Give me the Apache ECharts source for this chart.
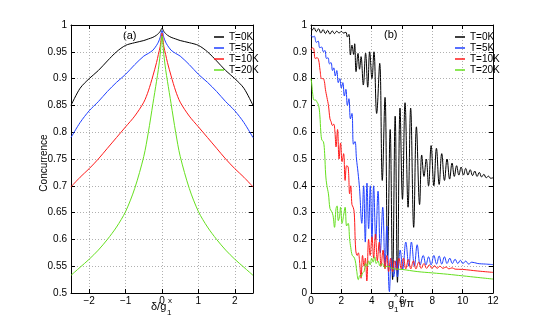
<!DOCTYPE html>
<html>
<head>
<meta charset="utf-8">
<script src="https://cdn.jsdelivr.net/npm/echarts@6/dist/echarts.min.js"></script>
<style>
  html, body { margin: 0; padding: 0; background: #fff; }
  #chart { width: 545px; height: 330px; }
</style>
</head>
<body>
<div id="chart"></div>
<script>
// (a) concurrence vs detuning
var detuning = [-2.5, -2.25, -2, -1.75, -1.5, -1.25, -1, -0.75, -0.5, -0.375, -0.25, -0.15, -0.1, -0.05, 0,
  0.05, 0.1, 0.15, 0.25, 0.375, 0.5, 0.75, 1, 1.25, 1.5, 1.75, 2, 2.25, 2.5];
var conc0K = [0.85, 0.882, 0.9, 0.915, 0.933, 0.95, 0.962, 0.967, 0.971, 0.974, 0.977, 0.981, 0.984, 0.988, 0.994,
  0.988, 0.984, 0.981, 0.977, 0.974, 0.971, 0.967, 0.962, 0.95, 0.933, 0.915, 0.9, 0.882, 0.85];
var conc5K = [0.79, 0.818, 0.84, 0.857, 0.876, 0.893, 0.908, 0.926, 0.942, 0.947, 0.953, 0.962, 0.968, 0.977, 0.99,
  0.977, 0.968, 0.962, 0.953, 0.947, 0.942, 0.926, 0.908, 0.893, 0.876, 0.857, 0.84, 0.818, 0.79];
var conc10K = [0.698, 0.716, 0.732, 0.75, 0.77, 0.79, 0.81, 0.83, 0.856, 0.877, 0.905, 0.93, 0.945, 0.96, 0.985,
  0.96, 0.945, 0.93, 0.905, 0.877, 0.856, 0.83, 0.81, 0.79, 0.77, 0.75, 0.732, 0.716, 0.698];
var conc20K = [0.533, 0.548, 0.563, 0.58, 0.6, 0.623, 0.652, 0.695, 0.755, 0.8, 0.853, 0.895, 0.917, 0.945, 0.98,
  0.945, 0.917, 0.895, 0.853, 0.8, 0.755, 0.695, 0.652, 0.623, 0.6, 0.58, 0.563, 0.548, 0.533];

// (b) concurrence vs time, [g1 tau/pi, C]
var dyn0K = [[0,0.988],[0.1,0.982],[0.2,0.99],[0.35,0.975],[0.5,0.986],[0.65,0.97],[0.8,0.983],[0.95,0.968],
  [1.1,0.98],[1.25,0.966],[1.4,0.978],[1.55,0.968],[1.7,0.977],[1.85,0.97],[2.0,0.976],[2.15,0.97],[2.3,0.973],
  [2.4,0.955],[2.5,0.965],[2.6,0.888],[2.7,0.925],[2.81,0.89],[2.88,0.93],[2.97,0.826],[3.1,0.894],[3.2,0.835],
  [3.3,0.882],[3.45,0.776],[3.6,0.895],[3.74,0.768],[3.87,0.9],[4.02,0.8],[4.15,0.9],[4.33,0.67],[4.53,0.857],
  [4.7,0.42],[4.88,0.73],[5.05,0.14],[5.22,0.61],[5.38,0.05],[5.55,0.66],[5.7,0.04],[5.87,0.69],[6.03,0.35],
  [6.2,0.71],[6.4,0.32],[6.57,0.69],[6.77,0.245],[6.95,0.62],[7.16,0.33],[7.3,0.515],[7.45,0.435],[7.6,0.5],
  [7.75,0.4],[7.92,0.55],[8.1,0.4],[8.27,0.54],[8.45,0.405],[8.62,0.52],[8.8,0.42],[8.97,0.5],[9.14,0.425],
  [9.3,0.485],[9.45,0.435],[9.6,0.475],[9.75,0.44],[9.9,0.47],[10.05,0.44],[10.2,0.465],[10.35,0.44],[10.5,0.46],
  [10.65,0.438],[10.8,0.455],[10.95,0.435],[11.1,0.45],[11.25,0.433],[11.4,0.443],[11.55,0.43],[11.7,0.436],
  [11.85,0.428],[12,0.43]];
var dyn5K = [[0,0.962],[0.12,0.955],[0.22,0.958],[0.35,0.935],[0.47,0.94],[0.58,0.915],[0.7,0.918],[0.82,0.9],
  [0.92,0.905],[1.02,0.875],[1.12,0.878],[1.22,0.855],[1.32,0.86],[1.42,0.83],[1.5,0.84],[1.6,0.81],[1.7,0.83],
  [1.8,0.785],[1.9,0.8],[2.0,0.765],[2.1,0.785],[2.2,0.735],[2.3,0.76],[2.4,0.7],[2.5,0.725],[2.6,0.65],[2.7,0.67],
  [2.8,0.555],[2.9,0.565],[3.0,0.5],[3.1,0.45],[3.2,0.39],[3.35,0.26],[3.47,0.4],[3.58,0.19],[3.69,0.41],[3.8,0.24],
  [3.91,0.4],[4.02,0.2],[4.13,0.4],[4.27,0.2],[4.42,0.38],[4.57,0.15],[4.73,0.32],[4.88,0.1],[5.0,0.25],[5.17,0.005],
  [5.3,0.13],[5.45,0.06],[5.6,0.12],[5.7,0.06],[5.88,0.16],[6.05,0.09],[6.25,0.19],[6.45,0.1],[6.62,0.19],[6.82,0.1],
  [7.0,0.18],[7.2,0.105],[7.4,0.14],[7.58,0.105],[7.75,0.135],[7.92,0.105],[8.1,0.14],[8.28,0.108],[8.45,0.138],
  [8.62,0.108],[8.8,0.135],[8.97,0.11],[9.15,0.13],[9.32,0.11],[9.5,0.126],[9.68,0.11],[9.85,0.122],[10.02,0.11],
  [10.2,0.119],[10.4,0.108],[10.6,0.115],[11,0.11],[11.5,0.108],[12,0.106]];
var dyn10K = [[0,0.907],[0.1,0.915],[0.18,0.912],[0.28,0.875],[0.4,0.878],[0.5,0.87],[0.6,0.83],[0.7,0.8],
  [0.8,0.8],[0.88,0.79],[0.95,0.76],[1.05,0.73],[1.15,0.7],[1.25,0.65],[1.32,0.64],[1.42,0.625],[1.5,0.63],
  [1.58,0.6],[1.65,0.545],[1.75,0.61],[1.85,0.5],[1.95,0.56],[2.05,0.49],[2.15,0.52],[2.25,0.42],[2.35,0.475],
  [2.45,0.47],[2.55,0.37],[2.62,0.4],[2.7,0.33],[2.78,0.32],[2.85,0.3],[2.95,0.16],[3.05,0.14],[3.12,0.15],
  [3.2,0.12],[3.3,0.055],[3.4,0.14],[3.5,0.1],[3.58,0.13],[3.68,0.045],[3.8,0.2],[3.9,0.14],[4.02,0.21],[4.13,0.13],
  [4.25,0.22],[4.37,0.12],[4.5,0.19],[4.62,0.1],[4.75,0.16],[4.88,0.09],[5.0,0.14],[5.12,0.08],[5.25,0.13],
  [5.38,0.08],[5.52,0.12],[5.65,0.085],[5.8,0.13],[5.95,0.09],[6.1,0.13],[6.25,0.09],[6.42,0.125],[6.58,0.09],
  [6.75,0.12],[6.92,0.09],[7.1,0.115],[7.27,0.092],[7.45,0.11],[7.62,0.092],[7.8,0.105],[7.97,0.092],[8.15,0.102],
  [8.32,0.092],[8.5,0.1],[8.7,0.092],[8.9,0.097],[9.1,0.09],[9.3,0.094],[9.5,0.089],[10,0.088],[11,0.082],[12,0.077]];
var dyn20K = [[0,0.8],[0.05,0.78],[0.12,0.74],[0.2,0.72],[0.3,0.72],[0.4,0.712],[0.5,0.7],[0.58,0.665],[0.65,0.6],
  [0.72,0.57],[0.82,0.565],[0.9,0.52],[0.97,0.44],[1.05,0.4],[1.15,0.37],[1.25,0.315],[1.35,0.305],[1.45,0.29],
  [1.55,0.245],[1.65,0.315],[1.72,0.325],[1.8,0.27],[1.88,0.285],[1.95,0.32],[2.05,0.26],[2.15,0.29],[2.25,0.32],
  [2.35,0.25],[2.45,0.26],[2.55,0.2],[2.62,0.17],[2.72,0.14],[2.82,0.135],[2.92,0.12],[3.02,0.08],[3.12,0.05],
  [3.22,0.065],[3.3,0.06],[3.4,0.075],[3.5,0.08],[3.6,0.11],[3.7,0.1],[3.8,0.12],[3.9,0.105],[4.0,0.13],[4.1,0.115],
  [4.2,0.135],[4.3,0.11],[4.42,0.12],[4.55,0.1],[4.7,0.11],[4.85,0.095],[5.0,0.1],[5.5,0.09],[6,0.088],[7,0.08],
  [8,0.075],[9,0.07],[10,0.064],[11,0.058],[12,0.052]];

var names = ['T=0K', 'T=5K', 'T=10K', 'T=20K'];
var colors = ['#000000', '#1f3fff', '#ff1a1a', '#66e01f'];

var font = 'Liberation Sans';
var gridLine = { show: true, lineStyle: { color: '#b0b0b0', type: [1, 2], width: 1 } };

function mainX(grid, min, max, extra) {
    return Object.assign({
        gridIndex: grid, type: 'value', min: min, max: max, position: 'bottom',
        axisLine: { onZero: false, lineStyle: { color: '#000' } },
        axisTick: { inside: true, length: 4, lineStyle: { color: '#000' } },
        axisLabel: { fontSize: 10, fontFamily: font, color: '#000', margin: 3,
            formatter: function (v) { return String(v).replace('-', '\u2212'); } },
        splitLine: gridLine
    }, extra);
}
function mainY(grid, min, max, interval) {
    return {
        gridIndex: grid, type: 'value', min: min, max: max, interval: interval, position: 'left',
        axisLine: { show: true, onZero: false, lineStyle: { color: '#000' } },
        axisTick: { show: true, inside: true, length: 4, lineStyle: { color: '#000' } },
        axisLabel: { fontSize: 10, fontFamily: font, color: '#000', margin: 4 },
        splitLine: gridLine
    };
}
// mirrored axes for the box look (ticks on top / right)
function mirror(base, pos) {
    var a = Object.assign({}, base);
    a.position = pos;
    a.axisLabel = { show: false };
    a.splitLine = { show: false };
    return a;
}

var xa0 = mainX(0, -2.5, 2.5, { splitNumber: 5, axisLabel: { fontSize: 10, fontFamily: font, color: '#000', margin: 3,
    showMinLabel: false, showMaxLabel: false,
    formatter: function (v) { return String(v).replace('-', '\u2212'); } } });
var xa1 = mainX(1, 0, 12, { interval: 2 });
var ya0 = mainY(0, 0.5, 1, 0.05);
var ya1 = mainY(1, 0, 1, 0.1);

var series = [];
[conc0K, conc5K, conc10K, conc20K].forEach(function (ys, k) {
    series.push({
        name: names[k], type: 'line', xAxisIndex: 0, yAxisIndex: 0,
        data: detuning.map(function (x, i) { return [x, ys[i]]; }),
        symbol: 'none', smooth: 0.3,
        lineStyle: { color: colors[k], width: 1 }, itemStyle: { color: colors[k] }
    });
});
[dyn0K, dyn5K, dyn10K, dyn20K].forEach(function (pts, k) {
    series.push({
        name: names[k], type: 'line', xAxisIndex: 2, yAxisIndex: 2,
        data: pts, symbol: 'none', smooth: 0.4,
        lineStyle: { color: colors[k], width: 1 }, itemStyle: { color: colors[k] }
    });
});

function legendAt(left) {
    return {
        data: names, orient: 'vertical', left: left, top: 27,
        icon: 'rect', itemWidth: 10, itemHeight: 1.5, itemGap: 1,
        textStyle: { fontSize: 10, fontFamily: font, color: '#000', lineHeight: 10 },
        inactiveColor: '#000'
    };
}

function txt(x, y, s, size, extra) {
    return Object.assign({
        type: 'text', x: x, y: y,
        style: { text: s, fontSize: size, fontFamily: font, fill: '#000', align: 'left', verticalAlign: 'middle' }
    }, extra || {});
}

var options = {
    backgroundColor: '#ffffff',
    animation: false,
    grid: [
        { left: 71, right: 292, top: 25, bottom: 37 },
        { left: 311, right: 52, top: 25, bottom: 37 }
    ],
    xAxis: [xa0, mirror(xa0, 'top'), xa1, mirror(xa1, 'top')],
    yAxis: [ya0, mirror(ya0, 'right'), ya1, mirror(ya1, 'right')],
    legend: [legendAt(209), legendAt(450)],
    series: series,
    graphic: [
        txt(123, 36, '(a)', 11),
        txt(384, 35, '(b)', 11),
        txt(44, 163, 'Concurrence', 10, { rotation: Math.PI / 2,
            style: { text: 'Concurrence', fontSize: 10, fontFamily: font, fill: '#000', align: 'center', verticalAlign: 'middle' } }),
        txt(151, 307, '\u03b4/g', 11),
        txt(168, 301, 'x', 8),
        txt(167, 313, '1', 8),
        txt(388, 304, 'g', 11),
        txt(394, 295, 'x', 8),
        txt(394, 310, '1', 8),
        txt(399, 304, '\u03c4/\u03c0', 11)
    ]
};

var chart = echarts.init(document.getElementById('chart'));
chart.setOption(options);
</script>
</body>
</html>
